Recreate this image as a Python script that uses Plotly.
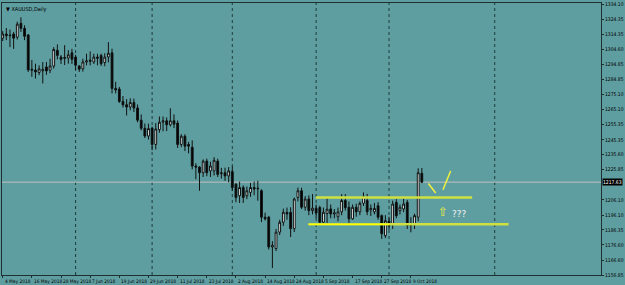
import plotly.graph_objects as go
import pandas as pd

# ---------------- data ----------------
dates = pd.bdate_range("2018-05-04", "2018-10-12")

opens = [1311.9, 1314.6, 1313.5, 1314.6, 1312.5, 1321.6, 1318.3, 1314.0, 1290.8, 1291.0,
         1289.4, 1290.5, 1293.0, 1290.9, 1293.6, 1303.9, 1299.5, 1298.5, 1298.9, 1302.3,
         1299.5, 1293.7, 1291.9, 1296.3, 1297.5, 1296.3, 1299.5, 1300.6, 1295.9, 1299.6,
         1302.3, 1279.0, 1278.6, 1270.5, 1268.3, 1266.8, 1269.8, 1266.2, 1258.2, 1252.9,
         1247.8, 1253.0, 1242.3, 1252.0, 1256.9, 1257.8, 1255.2, 1257.8, 1256.3, 1242.3,
         1247.7, 1242.3, 1240.5, 1228.2, 1227.5, 1223.8, 1231.4, 1225.0, 1225.0, 1231.4,
         1223.2, 1223.8, 1221.7, 1224.5, 1216.3, 1208.7, 1214.1, 1208.7, 1210.9, 1214.1,
         1213.2, 1212.0, 1194.7, 1194.7, 1175.2, 1174.2, 1184.9, 1191.4, 1197.9, 1197.9,
         1187.2, 1207.6, 1212.0, 1201.2, 1206.6, 1199.0, 1200.5, 1201.0, 1191.4, 1197.1,
         1200.1, 1196.8, 1195.0, 1198.2, 1205.6, 1201.2, 1193.6, 1201.2, 1198.2, 1203.8,
         1205.6, 1199.5, 1198.2, 1202.2, 1195.7, 1182.6, 1192.0, 1190.4, 1204.4, 1199.0,
         1200.1, 1204.4, 1189.3, 1189.8, 1194.7, 1223.4]
highs = [1316.5, 1318.5, 1317.5, 1316.0, 1322.7, 1325.5, 1320.3, 1314.5, 1297.6, 1295.2,
         1294.1, 1296.3, 1296.3, 1298.4, 1306.0, 1307.8, 1300.8, 1307.3, 1304.1, 1304.9,
         1301.0, 1294.1, 1298.4, 1301.7, 1303.2, 1301.7, 1301.7, 1301.7, 1302.0, 1309.3,
         1305.0, 1283.3, 1280.0, 1274.0, 1272.0, 1272.5, 1272.3, 1268.5, 1262.0, 1256.0,
         1255.9, 1254.0, 1256.3, 1260.6, 1260.6, 1260.0, 1266.0, 1262.0, 1258.0, 1249.0,
         1249.0, 1244.0, 1245.0, 1230.0, 1228.0, 1232.5, 1233.0, 1231.0, 1234.0, 1233.0,
         1227.0, 1227.1, 1227.5, 1228.0, 1217.0, 1218.0, 1215.5, 1214.8, 1217.2, 1218.0,
         1218.5, 1213.0, 1197.7, 1195.5, 1179.0, 1187.0, 1193.0, 1200.3, 1201.0, 1201.2,
         1207.5, 1214.1, 1214.0, 1208.5, 1209.0, 1209.8, 1203.0, 1202.2, 1201.0, 1207.7,
         1203.0, 1200.0, 1201.0, 1209.8, 1209.8, 1205.0, 1203.0, 1203.5, 1205.0, 1210.9,
         1210.0, 1203.0, 1204.0, 1204.5, 1196.5, 1196.0, 1195.0, 1205.5, 1206.5, 1203.0,
         1207.0, 1206.0, 1194.7, 1197.0, 1226.7, 1226.9]
lows = [1310.0, 1310.6, 1306.0, 1304.9, 1311.0, 1316.0, 1310.6, 1289.8, 1286.6, 1285.5,
        1287.7, 1282.2, 1287.9, 1289.0, 1292.0, 1298.0, 1295.0, 1294.3, 1295.2, 1295.0,
        1291.0, 1289.8, 1290.0, 1294.1, 1294.1, 1295.0, 1294.1, 1293.7, 1293.5, 1296.0,
        1275.7, 1275.7, 1269.5, 1266.5, 1261.3, 1264.6, 1263.5, 1256.8, 1251.5, 1246.5,
        1245.5, 1238.5, 1239.0, 1250.0, 1250.9, 1251.0, 1254.0, 1253.0, 1240.0, 1240.5,
        1238.0, 1236.5, 1226.0, 1219.5, 1212.0, 1221.0, 1221.5, 1221.0, 1222.0, 1221.0,
        1220.0, 1218.5, 1217.5, 1212.0, 1204.5, 1204.0, 1204.0, 1206.5, 1208.0, 1209.0,
        1205.5, 1191.5, 1192.5, 1173.5, 1161.4, 1172.5, 1183.0, 1189.0, 1193.0, 1181.7,
        1185.0, 1205.0, 1200.0, 1199.0, 1196.0, 1196.5, 1194.0, 1189.5, 1189.5, 1190.5,
        1194.0, 1194.0, 1192.0, 1196.0, 1199.0, 1191.0, 1193.0, 1195.0, 1196.0, 1202.0,
        1196.0, 1195.5, 1196.5, 1193.0, 1180.5, 1181.0, 1186.5, 1187.0, 1194.0, 1196.5,
        1198.0, 1187.0, 1184.8, 1187.0, 1192.0, 1217.0]
closes = [1314.6, 1313.5, 1313.8, 1311.9, 1321.1, 1318.3, 1313.1, 1291.1, 1291.5, 1289.8,
          1291.8, 1291.5, 1290.4, 1293.7, 1304.5, 1300.6, 1298.0, 1299.3, 1301.0, 1298.0,
          1294.2, 1291.6, 1296.3, 1297.0, 1296.8, 1299.5, 1298.8, 1295.2, 1299.5, 1302.0,
          1279.0, 1278.0, 1270.5, 1268.3, 1266.8, 1269.8, 1266.2, 1258.2, 1252.9, 1247.8,
          1252.7, 1242.3, 1252.4, 1256.9, 1257.8, 1255.2, 1257.8, 1255.6, 1242.3, 1247.7,
          1241.2, 1241.2, 1228.2, 1227.5, 1223.8, 1231.4, 1223.8, 1228.2, 1231.9, 1222.7,
          1223.7, 1221.7, 1225.0, 1214.1, 1207.6, 1214.1, 1207.6, 1212.0, 1214.1, 1213.1,
          1213.6, 1194.7, 1193.6, 1175.2, 1176.3, 1184.9, 1191.4, 1197.9, 1196.8, 1187.2,
          1206.6, 1212.0, 1201.2, 1206.6, 1199.0, 1200.6, 1197.5, 1191.4, 1197.9, 1199.9,
          1196.8, 1197.5, 1198.2, 1205.6, 1200.9, 1193.6, 1201.2, 1198.2, 1203.8, 1208.2,
          1198.2, 1200.5, 1200.4, 1194.7, 1183.9, 1192.4, 1189.0, 1203.3, 1195.7, 1201.2,
          1203.3, 1189.3, 1190.5, 1195.7, 1223.8, 1217.63]

price_ticks = [1334.10, 1324.35, 1314.35, 1304.60, 1294.85, 1284.85, 1275.10, 1265.10,
               1255.35, 1245.35, 1235.60, 1225.85, 1206.10, 1196.10, 1186.35, 1176.60,
               1166.60, 1156.85]
current_price = 1217.63
date_label_step = 8
separator_bars = [20, 41, 63, 86, 106, 135]

# user-drawn objects (bar index, price)
upper_level = dict(x0=85.9, x1=128.8, y=1207.6)
lower_level = dict(x0=83.9, x1=138.8, y=1190.0)
stroke_a = dict(x0=116.8, y0=1216.7, x1=118.8, y1=1210.5)
stroke_b = dict(x0=120.8, y0=1212.6, x1=122.9, y1=1224.9)
arrow_pos = dict(x=120.8, y=1198.0)
question_pos = dict(x=122.8, y=1197.0)

# ---------------- figure ----------------
BG = "#5f9ea0"
x = list(range(len(dates)))

fig = go.Figure()
fig.add_trace(go.Candlestick(
    x=x, open=opens, high=highs, low=lows, close=closes,
    increasing=dict(line=dict(color="#111111", width=1), fillcolor="#ffffff"),
    decreasing=dict(line=dict(color="#111111", width=1), fillcolor="#000000"),
    showlegend=False, hoverinfo="skip"))

shapes = []
for b in separator_bars:
    shapes.append(dict(type="line", xref="x", yref="paper", x0=b, x1=b, y0=0, y1=1,
                       line=dict(color="#1e3c3c", width=1, dash="dot"), layer="below"))
shapes.append(dict(type="line", xref="paper", yref="y", x0=0, x1=1,
                   y0=current_price, y1=current_price,
                   line=dict(color="#c0c0c0", width=1), layer="below"))
shapes.append(dict(type="line", xref="x", yref="y", x0=upper_level["x0"], x1=upper_level["x1"],
                   y0=upper_level["y"], y1=upper_level["y"],
                   line=dict(color="#cfe040", width=2.5)))
shapes.append(dict(type="line", xref="x", yref="y", x0=lower_level["x0"], x1=lower_level["x1"],
                   y0=lower_level["y"], y1=lower_level["y"],
                   line=dict(color="#cfe040", width=2.5)))
shapes.append(dict(type="line", xref="x", yref="y", x0=lower_level["x0"], x1=106,
                   y0=lower_level["y"], y1=lower_level["y"],
                   line=dict(color="#ffff00", width=1.2)))
for s in (stroke_a, stroke_b):
    shapes.append(dict(type="line", xref="x", yref="y", x0=s["x0"], x1=s["x1"],
                       y0=s["y0"], y1=s["y1"], line=dict(color="#f0f040", width=1.5)))

FONT = "Liberation Sans Narrow, Arial Narrow, DejaVu Sans Condensed, sans-serif"
annotations = []
label_idx = x[::date_label_step]
for i in label_idx:
    d = dates[i]
    annotations.append(dict(x=i, y=0, xref="x", yref="paper", yshift=-2,
                            text=f"{d.day} {d.strftime('%b %Y')}", showarrow=False,
                            xanchor="left", yanchor="top",
                            font=dict(size=4.8, color="#000000", family=FONT)))
annotations.append(dict(x=1, y=current_price, xref="paper", yref="y", xshift=1,
                        text=f"{current_price:.2f}", showarrow=False, xanchor="left",
                        yanchor="middle", bgcolor="#000000", borderpad=0,
                        font=dict(size=5, color="#ffffff", family=FONT)))
annotations.append(dict(x=0, y=1, xref="paper", yref="paper", xshift=2, yshift=-1,
                        text="▼ XAUUSD,Daily", showarrow=False, xanchor="left", yanchor="top",
                        font=dict(size=5.5, color="#000000", family=FONT)))
annotations.append(dict(x=arrow_pos["x"], y=arrow_pos["y"], xref="x", yref="y",
                        text="⇧", showarrow=False, xanchor="center", yanchor="middle",
                        font=dict(size=12, color="#f0f040", family="DejaVu Sans")))
annotations.append(dict(x=question_pos["x"], y=question_pos["y"], xref="x", yref="y",
                        text="???", showarrow=False, xanchor="left", yanchor="middle",
                        font=dict(size=9, color="#f4f4f4", family="DejaVu Sans")))

fig.update_layout(
    width=625, height=285,
    margin=dict(l=1, r=20, t=1, b=10),
    paper_bgcolor=BG, plot_bgcolor=BG,
    shapes=shapes, annotations=annotations,
    xaxis=dict(range=[-0.19, 164.16], rangeslider=dict(visible=False),
               showgrid=False, zeroline=False, showline=True, mirror=True,
               linecolor="#1e3030", linewidth=1,
               tickvals=label_idx, ticktext=[""] * len(label_idx),
               ticks="outside", ticklen=2, tickcolor="#1e3030"),
    yaxis=dict(range=[1156.85, 1334.9], side="right",
               showgrid=False, zeroline=False, showline=True, mirror=True,
               linecolor="#1e3030", linewidth=1,
               tickvals=price_ticks, ticktext=[f"{v:.2f}" for v in price_ticks],
               ticks="outside", ticklen=2, tickcolor="#1e3030",
               ticklabeloverflow="allow",
               tickfont=dict(size=5, color="#000000", family=FONT)),
)

fig.write_html("out.html")
